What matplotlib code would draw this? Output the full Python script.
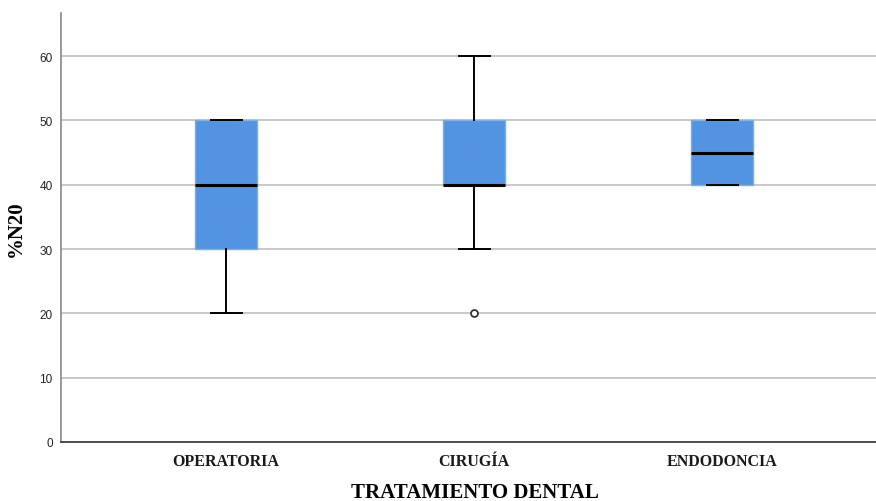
import matplotlib
matplotlib.use("Agg")
import matplotlib.pyplot as plt

categories = ["OPERATORIA", "CIRUGÍA", "ENDODONCIA"]
whislo = [20, 30, 40]
q1 = [30, 40, 40]
med = [40, 40, 45]
q3 = [50, 50, 50]
whishi = [50, 60, 50]
fliers = [[], [20], []]
yticks = [0, 10, 20, 30, 40, 50, 60]

stats = []
for i, c in enumerate(categories):
    stats.append(dict(label=c, whislo=whislo[i], q1=q1[i], med=med[i],
                      q3=q3[i], whishi=whishi[i], fliers=fliers[i]))

fig = plt.figure(figsize=(8.76, 5.02), dpi=100)
ax = fig.add_axes([61/876, 59/502, 1 - 61/876, (443-14)/502])

positions = list(range(len(categories)))
ax.set_axisbelow(True)
ax.yaxis.grid(True, color="#c8c8c8", linewidth=1.4)
ax.bxp(stats, positions=positions, widths=0.25, patch_artist=True,
       boxprops=dict(facecolor="#5294E2", edgecolor="#7aaeea", linewidth=1),
       medianprops=dict(color="black", linewidth=2.2),
       whiskerprops=dict(color="black", linewidth=1.4),
       capprops=dict(color="black", linewidth=1.4),
       capwidths=0.125,
       flierprops=dict(marker="o", markersize=5, markerfacecolor="white",
                       markeredgecolor="#333333", markeredgewidth=1.3))

ax.set_xlim(-165/248, (876-226)/248)
ax.set_ylim(0, 66.7)
ax.set_yticks(yticks)
ax.set_yticklabels([str(v) for v in yticks], fontsize=8.5, family="Liberation Sans", color="#222222")
ax.set_xticks(positions)
ax.set_xticklabels(categories, fontsize=11.5, family="Liberation Serif", fontweight="bold", color="#1a1a1a")
ax.tick_params(axis="both", length=0)
ax.tick_params(axis="x", pad=8)
ax.tick_params(axis="y", pad=6)
ax.spines["top"].set_visible(False)
ax.spines["right"].set_visible(False)
ax.spines["left"].set_color("#888888")
ax.spines["left"].set_linewidth(1.2)
ax.spines["bottom"].set_color("#333333")
ax.spines["bottom"].set_linewidth(1.2)

ax.set_ylabel("%N20", fontsize=15, family="Liberation Serif", fontweight="bold", labelpad=10)
fig.text(475/876, 1 - 493/502, "TRATAMIENTO DENTAL", fontsize=15,
         family="Liberation Serif", fontweight="bold", ha="center", va="center")

fig.savefig("out.png", dpi=100)
